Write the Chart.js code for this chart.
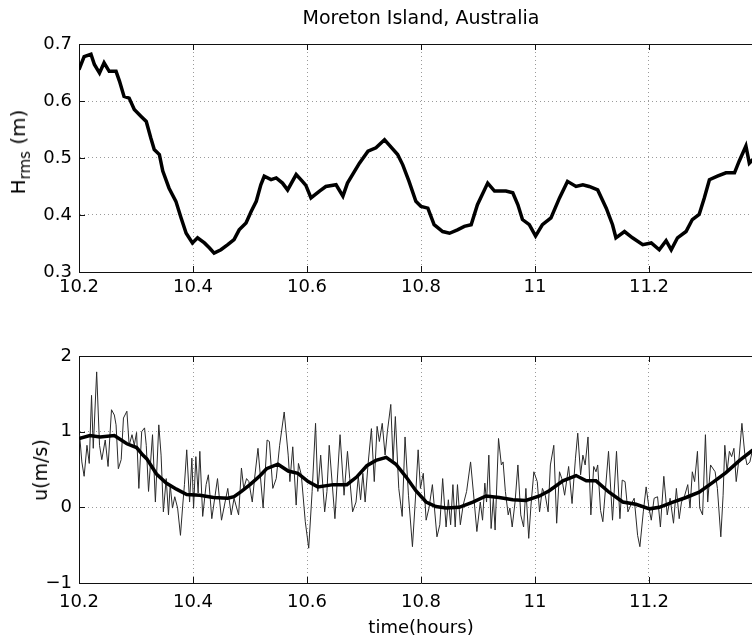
<!DOCTYPE html>
<html>
<head>
<meta charset="utf-8">
<script src="https://cdn.jsdelivr.net/npm/chart.js@4.4.1/dist/chart.umd.min.js"></script>
<style>
  body { margin: 0; background: #fff; overflow: hidden; }
  #wrap { position: relative; width: 752px; height: 641px; overflow: hidden; font-family: "DejaVu Sans", sans-serif; color: #000; }
  canvas { position: absolute; left: 0; }
  #topChart { top: 0; }
  #botChart { top: 300px; }
  .title { position: absolute; left: 0; width: 842px; text-align: center; font-size: 19px; top: 6px; }
  .ylab { position: absolute; font-size: 20px; white-space: nowrap; transform: translate(-50%, -50%) rotate(-90deg); }
  .ylab sub { font-size: 15px; }
</style>
</head>
<body>
<div id="wrap">
  <canvas id="topChart" width="842" height="300"></canvas>
  <canvas id="botChart" width="842" height="341"></canvas>
  <div class="title">Moreton Island, Australia</div>
  <div class="ylab" style="left:20px; top:152px;">H<sub>rms</sub> (m)</div>
  <div class="ylab" style="left:40px; top:470px; font-size:19px;">u(m/s)</div>
</div>
<script>
// ---- data (time in hours) ----
const xTicks = [10.2, 10.4, 10.6, 10.8, 11, 11.2];
const hTicks = [0.3, 0.4, 0.5, 0.6, 0.7];
const uTicks = [-1, 0, 1, 2];

// H_rms, top panel
const hTime = [10.200,10.209,10.221,10.227,10.236,10.244,10.253,10.265,10.271,10.279,10.288,10.297,10.309,10.318,10.326,10.332,10.341,10.347,10.358,10.370,10.379,10.388,10.399,10.408,10.420,10.429,10.437,10.449,10.461,10.472,10.481,10.493,10.502,10.511,10.519,10.525,10.537,10.546,10.557,10.566,10.581,10.592,10.598,10.607,10.622,10.633,10.651,10.663,10.671,10.692,10.707,10.721,10.736,10.744,10.759,10.768,10.779,10.791,10.800,10.812,10.823,10.838,10.850,10.864,10.876,10.888,10.899,10.917,10.929,10.949,10.961,10.970,10.978,10.990,11.001,11.013,11.028,11.043,11.057,11.072,11.084,11.095,11.110,11.125,11.136,11.142,11.157,11.171,11.189,11.204,11.218,11.230,11.239,11.250,11.265,11.276,11.288,11.297,11.306,11.320,11.335,11.350,11.358,11.370,11.376,11.385];
const hrms = [0.655,0.678,0.682,0.664,0.649,0.667,0.652,0.652,0.635,0.608,0.605,0.585,0.573,0.564,0.535,0.515,0.506,0.477,0.447,0.424,0.395,0.368,0.351,0.360,0.351,0.342,0.333,0.339,0.348,0.357,0.374,0.386,0.406,0.424,0.453,0.468,0.462,0.465,0.456,0.444,0.471,0.459,0.452,0.430,0.442,0.450,0.453,0.433,0.456,0.491,0.512,0.518,0.532,0.523,0.506,0.488,0.459,0.424,0.415,0.412,0.383,0.371,0.368,0.374,0.380,0.383,0.418,0.456,0.442,0.442,0.439,0.418,0.392,0.383,0.363,0.383,0.395,0.430,0.459,0.450,0.453,0.450,0.444,0.412,0.383,0.360,0.371,0.360,0.348,0.351,0.339,0.355,0.339,0.360,0.371,0.392,0.401,0.430,0.462,0.468,0.474,0.474,0.494,0.521,0.491,0.500];

// u, bottom panel: raw signal
const uTime = [10.201,10.205,10.209,10.214,10.218,10.222,10.225,10.231,10.236,10.240,10.246,10.251,10.257,10.262,10.265,10.269,10.274,10.278,10.284,10.288,10.293,10.297,10.301,10.305,10.310,10.315,10.318,10.322,10.329,10.334,10.340,10.344,10.348,10.353,10.357,10.360,10.364,10.368,10.373,10.378,10.382,10.385,10.389,10.394,10.398,10.401,10.405,10.409,10.412,10.417,10.423,
  10.427,10.433,10.443,10.450,10.461,10.467,10.472,10.480,10.485,10.489,10.494,10.498,10.504,10.508,10.514,10.523,10.530,10.534,10.540,10.546,10.552,10.560,10.567,10.570,10.575,10.581,10.585,10.590,10.597,10.603,10.609,10.615,10.619,10.624,10.631,10.635,10.639,10.649,10.658,
  10.665,10.671,10.675,10.680,10.686,10.690,10.694,10.698,10.702,10.707,10.713,10.718,10.723,10.727,10.732,10.737,10.741,10.747,10.751,10.755,10.761,10.767,10.772,10.778,10.785,10.791,10.795,10.799,10.804,10.809,10.814,10.820,10.828,10.833,10.838,10.844,10.848,10.852,10.856,10.860,10.864,10.869,10.874,10.880,10.887,10.892,
  10.898,10.904,10.908,10.912,10.915,10.919,10.923,10.927,10.930,10.936,10.941,10.944,10.948,10.953,10.956,10.960,10.965,10.970,10.975,10.980,10.984,10.989,10.993,10.998,11.004,11.008,11.013,11.018,11.023,11.027,11.033,11.038,11.043,11.047,11.052,11.059,11.065,11.071,11.075,11.080,11.084,11.088,11.093,11.098,11.103,11.107,11.110,11.115,11.119,
  11.129,11.136,11.143,11.149,11.153,11.158,11.163,11.168,11.174,11.180,11.184,11.190,11.195,11.200,11.204,11.209,11.215,11.220,11.226,11.232,11.237,11.243,11.248,11.253,11.257,11.262,11.268,11.272,11.276,11.280,11.285,11.289,11.294,11.299,11.303,11.308,11.316,11.320,11.326,11.330,11.333,11.337,11.341,11.345,11.349,11.353,11.358,11.363,11.368,11.372,11.377,11.381,11.390];
const uRaw = [0.96,0.60,0.41,0.82,0.58,1.48,0.78,1.79,0.82,0.63,0.89,0.54,1.29,1.22,1.09,0.51,0.63,1.18,1.27,0.82,0.96,0.82,0.99,0.25,1.00,1.05,0.82,0.21,0.96,0.07,1.09,0.69,-0.06,0.38,-0.10,0.30,-0.01,0.14,-0.01,-0.37,0.03,0.30,0.76,0.07,0.65,-0.01,0.67,0.19,0.74,-0.12,0.30,
  0.43,-0.15,0.38,-0.17,0.25,-0.10,0.12,-0.10,0.52,0.25,0.38,0.34,0.07,0.38,0.78,-0.01,0.89,0.87,0.25,0.38,0.82,1.26,0.69,0.34,0.80,0.03,0.58,0.43,-0.19,-0.54,0.21,1.11,0.21,0.69,-0.06,0.21,0.82,-0.15,0.96,
  0.16,0.74,0.38,-0.06,0.07,0.41,0.10,0.45,0.07,0.56,1.04,0.34,1.07,0.87,1.11,0.69,1.00,1.36,0.60,1.20,0.25,-0.12,0.93,0.16,-0.52,0.21,0.76,0.25,0.45,-0.17,-0.01,0.30,-0.39,-0.23,0.38,-0.26,0.10,-0.23,0.30,-0.26,0.30,-0.23,0.03,0.21,0.60,0.19,
  -0.32,0.07,-0.17,0.32,0.07,0.69,-0.28,0.12,-0.30,0.91,0.56,0.60,0.21,-0.10,-0.01,-0.26,0.07,0.56,-0.10,-0.26,0.25,-0.41,0.03,0.47,0.34,-0.06,0.25,0.16,-0.06,0.56,0.82,-0.21,0.47,0.38,0.16,0.54,0.05,0.65,0.98,0.43,0.69,0.56,0.93,-0.10,0.54,0.47,0.56,-0.04,-0.19,
  0.74,-0.17,0.74,-0.15,0.36,0.34,-0.06,0.03,0.12,-0.37,-0.52,-0.06,0.27,-0.01,-0.17,0.12,0.14,-0.26,0.41,-0.10,0.12,-0.21,0.25,-0.15,0.07,0.14,0.30,-0.01,0.47,0.34,0.74,-0.01,-0.10,0.96,0.07,0.56,0.47,0.25,-0.39,0.16,0.82,0.47,0.74,0.67,0.78,0.34,0.65,1.11,0.71,0.56,0.60,0.74,0.70];

// u, bottom panel: smoothed
const uSmoothTime = [10.200,10.219,10.237,10.262,10.284,10.301,10.312,10.319,10.336,10.353,10.371,10.389,10.412,10.436,10.461,10.472,10.485,10.500,10.518,10.529,10.549,10.567,10.584,10.602,10.619,10.646,10.670,10.687,10.705,10.721,10.739,10.756,10.774,10.791,10.809,10.826,10.844,10.867,10.891,10.914,10.937,10.961,10.984,11.008,11.025,11.049,11.072,11.090,11.107,11.130,11.154,11.177,11.201,11.218,11.242,11.265,11.288,11.312,11.335,11.359,11.381,11.400];
const uSmooth = [0.91,0.95,0.93,0.95,0.84,0.79,0.69,0.64,0.44,0.32,0.24,0.17,0.16,0.13,0.12,0.14,0.21,0.30,0.42,0.51,0.57,0.48,0.45,0.34,0.27,0.30,0.30,0.40,0.55,0.62,0.66,0.57,0.40,0.22,0.07,0.01,-0.01,0.00,0.07,0.15,0.13,0.10,0.09,0.15,0.22,0.35,0.42,0.35,0.35,0.20,0.07,0.04,-0.02,0.00,0.07,0.13,0.20,0.33,0.46,0.62,0.75,0.82];

const FONT = { family: "DejaVu Sans", size: 18 };
const GRID_GREY = "#9a9a9a";

function pts(xs, ys) {
    return xs.map((x, i) => ({ x: x, y: ys[i] }));
}

function fmtX(v) { return String(+v.toFixed(1)); }
function fmtY(v) {
    const s = String(+v.toFixed(1));
    return v < 0 ? "\u2212" + s.slice(1) : s;
}

// frame on top/right + matlab style inward ticks
const framePlugin = {
    id: "frame",
    afterDatasetsDraw(chart) {
        const { ctx, chartArea: a, scales } = chart;
        ctx.save();
        ctx.strokeStyle = "#111";
        ctx.lineWidth = 1;
        ctx.beginPath();
        ctx.moveTo(a.left, a.top + 0.5);
        ctx.lineTo(a.right, a.top + 0.5);
        ctx.moveTo(a.right - 0.5, a.top);
        ctx.lineTo(a.right - 0.5, a.bottom);
        const len = 6;
        scales.x.ticks.forEach(t => {
            const px = Math.round(scales.x.getPixelForValue(t.value)) + 0.5;
            ctx.moveTo(px, a.bottom); ctx.lineTo(px, a.bottom - len);
            ctx.moveTo(px, a.top); ctx.lineTo(px, a.top + len);
        });
        scales.y.ticks.forEach(t => {
            const py = Math.round(scales.y.getPixelForValue(t.value)) + 0.5;
            ctx.moveTo(a.left, py); ctx.lineTo(a.left + len, py);
            ctx.moveTo(a.right, py); ctx.lineTo(a.right - len, py);
        });
        ctx.stroke();
        ctx.restore();
    }
};

function makeChart(id, datasets, yMin, yMax, yTicks, padTop, xAxisHeight, tickPad, xTitle) {
    const ctx = document.getElementById(id).getContext("2d");
    return new Chart(ctx, {
        type: "line",
        data: { datasets: datasets },
        options: {
            responsive: false,
            animation: false,
            layout: { padding: { top: padTop, right: 79, left: 0, bottom: 0 } },
            plugins: { legend: { display: false }, tooltip: { enabled: false } },
            elements: { point: { radius: 0 }, line: { tension: 0 } },
            scales: {
                x: {
                    type: "linear", min: 10.2, max: 11.4,
                    afterBuildTicks: s => { s.ticks = xTicks.map(v => ({ value: v })); },
                    afterFit: s => { s.height = xAxisHeight; },
                    ticks: { color: "#000", font: FONT, padding: tickPad, maxRotation: 0, callback: fmtX },
                    grid: { color: GRID_GREY, lineWidth: 1, drawTicks: false },
                    border: { display: true, color: "#111", width: 1, dash: [1, 3] },
                    title: xTitle ? { display: true, text: xTitle, color: "#000", font: FONT, padding: { top: 0, bottom: 2 } } : { display: false }
                },
                y: {
                    min: yMin, max: yMax,
                    afterBuildTicks: s => { s.ticks = yTicks.map(v => ({ value: v })); },
                    afterFit: s => { s.width = 79; },
                    ticks: { color: "#000", font: FONT, padding: 7, callback: fmtY },
                    grid: { color: GRID_GREY, lineWidth: 1, drawTicks: false },
                    border: { display: true, color: "#111", width: 1, dash: [1, 3] }
                }
            }
        },
        plugins: [framePlugin]
    });
}

makeChart("topChart", [{
    data: pts(hTime, hrms),
    borderColor: "#000",
    borderWidth: 3.5,
    fill: false
}], 0.3, 0.7, hTicks, 44, 28, 5, null);

makeChart("botChart", [{
    data: pts(uSmoothTime, uSmooth),
    borderColor: "#000",
    borderWidth: 3.5,
    fill: false
}, {
    data: pts(uTime, uRaw),
    borderColor: "#2a2a2a",
    borderWidth: 1,
    fill: false
}], -1, 2, uTicks, 56, 58, 9, "time(hours)");
</script>
</body>
</html>
